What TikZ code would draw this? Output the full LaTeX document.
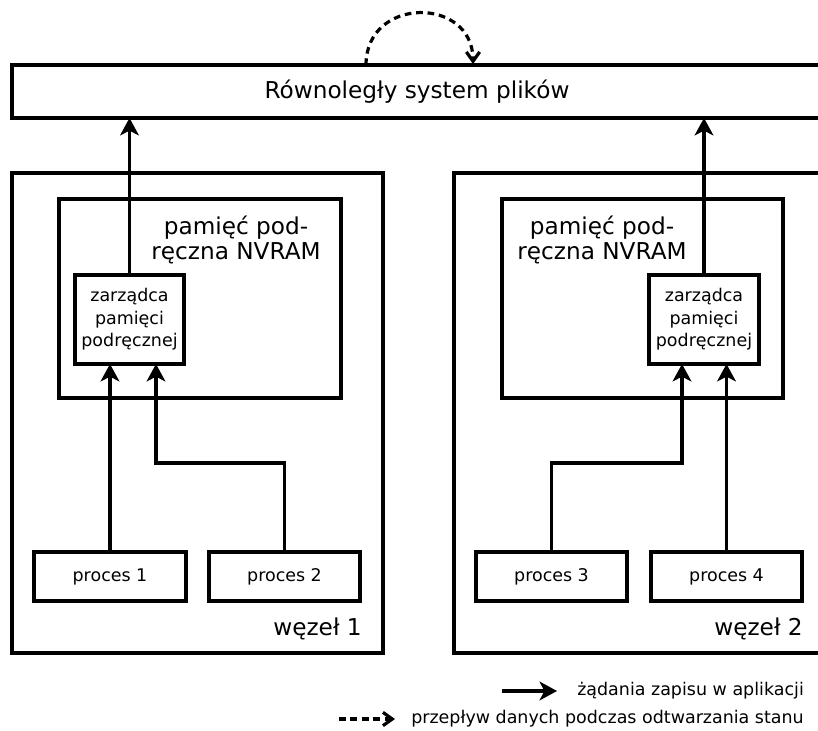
\documentclass[tikz,border=0pt]{standalone}
\usepackage{fontspec}
\setmainfont{DejaVu Sans}
\usetikzlibrary{arrows.meta,fit,calc}
\begin{document}
\begin{tikzpicture}[x=0.75pt,y=-0.75pt,
  box/.style={draw, line width=2.4pt, inner sep=0pt, outer sep=0pt},
  big/.style={font=\fontsize{17.4}{18.75}\selectfont},
  small/.style={font=\fontsize{13.1}{17}\selectfont},
  tag/.style={inner sep=0pt},
  req/.style={line width=2.4pt, -{Stealth[length=13pt,width=14pt,inset=3.5pt]}},
  rec/.style={line width=2.4pt, dash pattern=on 5pt off 3.6pt,
              -{Straight Barb[length=7pt,width=10pt,line width=2.4pt]}},
]
\useasboundingbox (0,0) rectangle (818,731);
\begin{scope}
\clip (0,0) rectangle (818,731);

% parallel file system
\node[box, fit={(12,65) (823,118)}] (pfs) {};
\node[big] (pfst) at (417,92) {Równoległy system plików};

% compute nodes
\node[box, fit={(12,173) (383,653)}] (n1) {};
\node[box, fit={(454,173) (824,653)}] (n2) {};
\node[big, tag, anchor=base east] (w1) at (362,635) {węzeł 1};
\node[big, tag, anchor=base east] (w2) at (803,635) {węzeł 2};

% NVRAM caches
\node[box, fit={(59,199) (341,398)}] (c1) {};
\node[box, fit={(502,199) (783,398)}] (c2) {};
\node[big, align=center, anchor=base] (t1) at (236,260) {pamięć pod-\\ręczna NVRAM};
\node[big, align=center, anchor=base] (t2) at (602,260) {pamięć pod-\\ręczna NVRAM};

% cache managers
\node[box, fit={(75,275) (184,364)}] (m1) {};
\node[small, align=center] (m1t) at (m1) {zarządca\\pamięci\\podręcznej};
\node[box, fit={(649,275) (759,364)}] (m2) {};
\node[small, align=center] (m2t) at (m2) {zarządca\\pamięci\\podręcznej};

% processes
\node[box, fit={(34,552) (186,601)}] (p1) {};
\node[small] (p1t) at (p1) {proces 1};
\node[box, fit={(209,552) (360,601)}] (p2) {};
\node[small] (p2t) at (p2) {proces 2};
\node[box, fit={(476,552) (627,601)}] (p3) {};
\node[small] (p3t) at (p3) {proces 3};
\node[box, fit={(651,552) (802,601)}] (p4) {};
\node[small] (p4t) at (p4) {proces 4};

% write requests
\coordinate (j1) at (156,463);
\coordinate (j2) at (682,463);
\draw[req] (m1.north) -- (m1.north |- pfs.south);
\draw[req] (m2.north) -- (m2.north |- pfs.south);
\draw[req] (p1.north) -- (p1.north |- m1.south);
\draw[req] (p2.north) |- (j1) -- (j1 |- m1.south);
\draw[req] (p3.north) |- (j2) -- (j2 |- m2.south);
\draw[req] (p4.north) -- (p4.north |- m2.south);

% recovery data flow
\coordinate (r0) at ($(pfs.north)+(-51.5,0)$);
\coordinate (r1) at ($(pfs.north)+(55.5,-1)$);
\draw[rec] (r0) .. controls +(0,-69) and +(0,-68) .. (r1);

% legend
\coordinate (l1a) at (502,691);
\coordinate (l1b) at (557,691);
\draw[req] (l1a) -- (l1b);
\node[small, tag, anchor=west] (lt1) at (577,691) {żądania zapisu w aplikacji};
\coordinate (l2a) at (339,719);
\coordinate (l2b) at (395,719);
\draw[rec] (l2a) -- (l2b);
\node[small, tag, anchor=west] (lt2) at (411,719) {przepływ danych podczas odtwarzania stanu};
\end{scope}
\end{tikzpicture}
\end{document}
